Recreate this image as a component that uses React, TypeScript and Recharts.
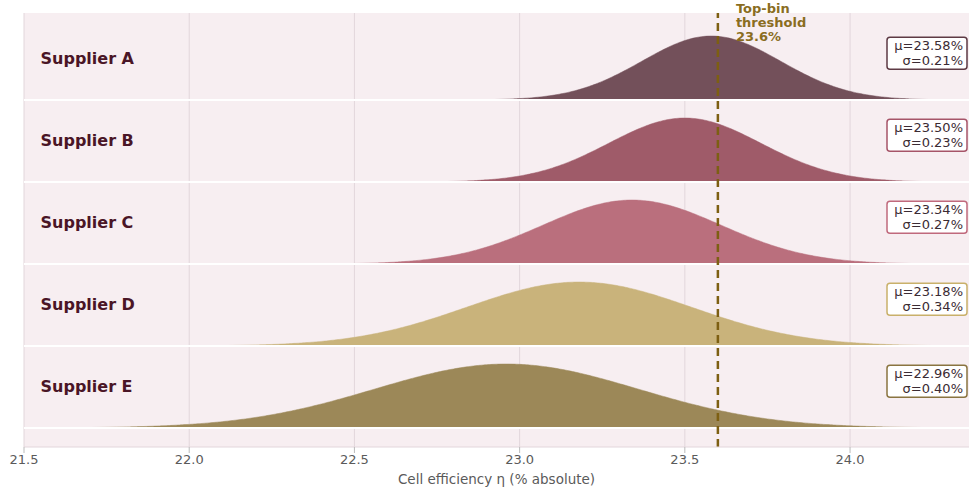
import React from 'react'
import { ComposedChart, Area, XAxis, YAxis, CartesianGrid, ReferenceLine, ReferenceDot } from 'recharts'

const suppliers = ['Supplier A', 'Supplier B', 'Supplier C', 'Supplier D', 'Supplier E']
const means = [23.58, 23.5, 23.34, 23.18, 22.96]
const sigmas = [0.21, 0.23, 0.27, 0.34, 0.4]
const colors = ['#73505a', '#9f5b69', '#ba6f7d', '#c9b37b', '#9c8858']
const borderColors = ['#5e3a44', '#a65468', '#c0697c', '#c9b06a', '#8a7440']
const xTicks = [21.5, 22.0, 22.5, 23.0, 23.5, 24.0]
const threshold = 23.6

const X_MIN = 21.5
const X_MAX = 24.36
const PEAK = 0.78
const SPAN = 3.4 // curves drawn out to mu +/- SPAN sigma
const font = 'DejaVu Sans, sans-serif'

// density rows: E sits at 0, A at 4
const xs: number[] = []
for (let x = X_MIN; x <= X_MAX + 1e-9; x += 0.01) xs.push(+x.toFixed(3))

const rows = xs.map(x => {
  const r: Record<string, number | number[] | null> = { x }
  suppliers.forEach((s, i) => {
    const base = suppliers.length - 1 - i
    const z = (x - means[i]) / sigmas[i]
    r[s] = Math.abs(z) > SPAN ? null : [base, base + PEAK * Math.exp(-0.5 * z * z)]
  })
  return r
})

function NameLabel({ cx, cy, text }: any) {
  return (
    <text x={cx} y={cy} fontFamily={font} fontWeight="bold" fontSize={16} fill="#4a1526" dominantBaseline="central">
      {text}
    </text>
  )
}

function StatBox({ cx, cy, i }: any) {
  const w = 80
  const h = 32
  return (
    <g>
      <rect x={cx - w - 2} y={cy - h / 2} width={w} height={h} rx={3} fill="#fff" stroke={borderColors[i]} strokeWidth={1.5} />
      <text x={cx - 6} y={cy - 3} textAnchor="end" fontFamily={font} fontSize={13} fill="#3b2b33">
        μ={means[i].toFixed(2)}%
      </text>
      <text x={cx - 6} y={cy + 12} textAnchor="end" fontFamily={font} fontSize={13} fill="#3b2b33">
        σ={sigmas[i].toFixed(2)}%
      </text>
    </g>
  )
}

function ThresholdLabel({ viewBox }: any) {
  const x = viewBox.x + 18
  const y = viewBox.y
  return (
    <text fontFamily={font} fontWeight="bold" fontSize={13} fill="#8a6d1f">
      <tspan x={x} y={y}>Top-bin</tspan>
      <tspan x={x} y={y + 14}>threshold</tspan>
      <tspan x={x} y={y + 28}>{threshold}%</tspan>
    </text>
  )
}

export default function App() {
  return (
    <div style={{ position: 'absolute', left: 0, top: 0, background: '#fff' }}>
      <ComposedChart width={969} height={487} data={rows} margin={{ top: 13, right: 0, left: 24, bottom: 0 }}>
        <CartesianGrid horizontal={false} vertical stroke="#e2d6db" fill="#f7eef1" verticalValues={xTicks} />
        <XAxis
          dataKey="x"
          type="number"
          domain={[X_MIN, X_MAX]}
          ticks={xTicks}
          tickFormatter={v => v.toFixed(1)}
          height={40}
          allowDataOverflow
          tick={{ fontFamily: font, fontSize: 13, fill: '#5a5a5a' }}
          tickLine={{ stroke: '#bbb' }}
          axisLine={{ stroke: '#e2d6db' }}
          label={{ value: 'Cell efficiency η (% absolute)', position: 'insideBottom', offset: 3, fontFamily: font, fontSize: 13.5, fill: '#5a5a5a' }}
        />
        <YAxis type="number" domain={[-0.232, 5.061]} hide allowDataOverflow />
        {suppliers.map((s, i) => (
          <ReferenceLine key={'b' + s} y={suppliers.length - 1 - i} stroke="#ffffff" strokeWidth={2} />
        ))}
        {suppliers.map((s, i) => (
          <Area
            key={s}
            dataKey={s}
            type="monotone"
            stroke={colors[i]}
            strokeWidth={1}
            strokeOpacity={0.5}
            fill={colors[i]}
            fillOpacity={1}
            dot={false}
            activeDot={false}
            isAnimationActive={false}
          />
        ))}
        <ReferenceLine
          x={threshold}
          stroke="#7d5f12"
          strokeWidth={2.5}
          strokeDasharray="8 5"
          label={<ThresholdLabel />}
        />
        {suppliers.map((s, i) => (
          <ReferenceDot
            key={'n' + s}
            x={21.55}
            y={suppliers.length - 1 - i + 0.51}
            r={0}
            ifOverflow="visible"
            shape={(p: any) => <NameLabel {...p} text={s} />}
          />
        ))}
        {suppliers.map((s, i) => (
          <ReferenceDot
            key={'s' + s}
            x={X_MAX}
            y={suppliers.length - 1 - i + 0.57}
            r={0}
            ifOverflow="visible"
            shape={(p: any) => <StatBox {...p} i={i} />}
          />
        ))}
      </ComposedChart>
    </div>
  )
}
